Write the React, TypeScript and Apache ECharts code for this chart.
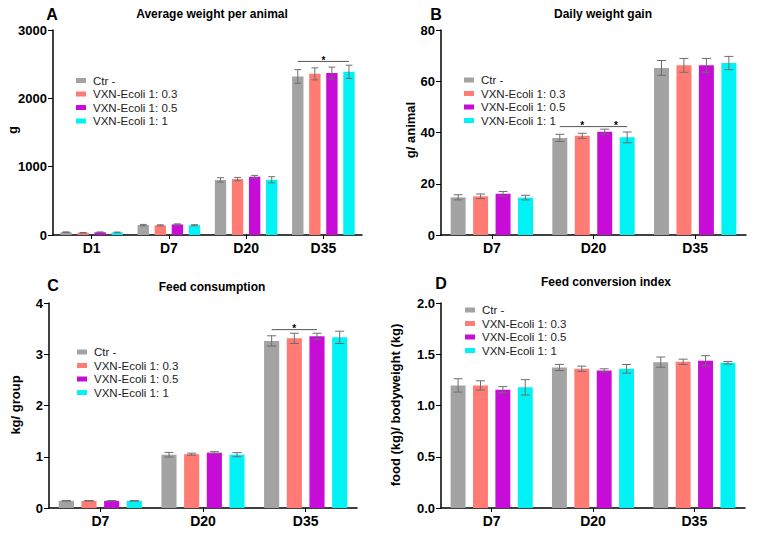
import React, { useEffect, useRef } from "react";
import * as echarts from "echarts";

const FONT = "'Liberation Sans', Arial, sans-serif";

const groupNames = ["Ctr -", "VXN-Ecoli 1: 0.3", "VXN-Ecoli 1: 0.5", "VXN-Ecoli 1: 1"];
const groupColors = ["#a3a3a3", "#ff7b73", "#c80cd8", "#00f2f5"];

const daysA = ["D1", "D7", "D20", "D35"];
const daysB = ["D7", "D20", "D35"];

// A: Average weight per animal (g)
const weightMeans = [
  [40, 145, 806, 2320],
  [33, 141, 818, 2358],
  [40, 155, 852, 2369],
  [38, 143, 808, 2388],
];
const weightErrs = [
  [6, 10, 32, 100],
  [4, 8, 25, 88],
  [5, 8, 20, 88],
  [5, 8, 45, 97],
];
// B: Daily weight gain (g/animal)
const gainMeans = [
  [14.7, 37.9, 65.2],
  [15.1, 38.7, 66.2],
  [16.1, 40.3, 66.2],
  [14.6, 38.1, 67.1],
];
const gainErrs = [
  [1.0, 1.4, 2.9],
  [0.9, 1.0, 2.7],
  [0.9, 1.0, 2.7],
  [0.9, 2.1, 2.6],
];
// C: Feed consumption (kg/group)
const feedMeans = [
  [0.14, 1.04, 3.26],
  [0.14, 1.05, 3.31],
  [0.14, 1.08, 3.35],
  [0.14, 1.04, 3.33],
];
const feedErrs = [
  [0.005, 0.045, 0.1],
  [0.005, 0.02, 0.1],
  [0.005, 0.02, 0.06],
  [0.005, 0.04, 0.12],
];
// D: Feed conversion index
const fciMeans = [
  [1.196, 1.371, 1.423],
  [1.196, 1.358, 1.426],
  [1.154, 1.342, 1.436],
  [1.177, 1.358, 1.417],
];
const fciErrs = [
  [0.065, 0.03, 0.05],
  [0.045, 0.026, 0.026],
  [0.03, 0.016, 0.05],
  [0.075, 0.042, 0.013],
];

// significance brackets: [categoryIndex, fromBar, toBar, yValue]
const sigA = [[3, 0, 3, 2540]];
const sigB = [
  [1, 0, 2, 42.3],
  [1, 2, 3, 42.3],
];
const sigC = [[2, 0, 2, 3.48]];

const CAT_GAP = 0.19;
const BAR_GAP = 0.5;

function barCenterOffset(band: number, idx: number, n = 4) {
  const usable = band * (1 - CAT_GAP);
  const bw = usable / (n + (n - 1) * BAR_GAP);
  const total = n * bw + (n - 1) * bw * BAR_GAP;
  return { off: -total / 2 + idx * bw * (1 + BAR_GAP) + bw / 2, bw };
}

const panels = [
  {
    cats: daysA, means: weightMeans, errs: weightErrs, sig: sigA,
    grid: { left: 53, top: 30, width: 309, height: 205 },
    yMax: 3000, yInt: 1000, fmt: (v: number) => String(v),
    legend: { left: 76, top: 74.5 },
  },
  {
    cats: daysB, means: gainMeans, errs: gainErrs, sig: sigB,
    grid: { left: 441, top: 30, width: 305, height: 205 },
    yMax: 80, yInt: 20, fmt: (v: number) => String(v),
    legend: { left: 464, top: 74 },
  },
  {
    cats: daysB, means: feedMeans, errs: feedErrs, sig: sigC,
    grid: { left: 49, top: 303, width: 308, height: 205 },
    yMax: 4, yInt: 1, fmt: (v: number) => String(v),
    legend: { left: 77, top: 346 },
  },
  {
    cats: daysB, means: fciMeans, errs: fciErrs, sig: [] as number[][],
    grid: { left: 441, top: 303, width: 304, height: 205 },
    yMax: 2, yInt: 0.5, fmt: (v: number) => v.toFixed(1),
    legend: { left: 465, top: 304 },
  },
];

const titles = [
  { text: "Average weight per animal", x: 212, y: 14 },
  { text: "Daily weight gain", x: 603, y: 14 },
  { text: "Feed consumption", x: 212, y: 287 },
  { text: "Feed conversion index", x: 606, y: 282 },
];
const letters = [
  { text: "A", x: 52, y: 14 },
  { text: "B", x: 436, y: 14 },
  { text: "C", x: 53, y: 285 },
  { text: "D", x: 441, y: 283 },
];
const yNames = [
  { text: "g", x: 12, y: 130 },
  { text: "g/ animal", x: 410, y: 130 },
  { text: "kg/ group", x: 15, y: 405 },
  { text: "food (kg)/ bodyweight (kg)", x: 395, y: 405 },
];

function buildOption() {
  const grids: any[] = [];
  const xAxes: any[] = [];
  const yAxes: any[] = [];
  const series: any[] = [];
  const legends: any[] = [];

  panels.forEach((p, pi) => {
    grids.push({ ...p.grid, containLabel: false });
    xAxes.push({
      type: "category",
      gridIndex: pi,
      data: p.cats,
      axisLine: { lineStyle: { color: "#000", width: 1.5 } },
      axisTick: { show: true, alignWithLabel: true, length: 4, lineStyle: { color: "#000", width: 1 } },
      axisLabel: { color: "#000", fontSize: 14, fontWeight: "bold", fontFamily: FONT, margin: 6 },
      splitLine: { show: false },
    });
    yAxes.push({
      type: "value",
      gridIndex: pi,
      min: 0,
      max: p.yMax,
      interval: p.yInt,
      axisLine: { show: true, lineStyle: { color: "#000", width: 1.5 } },
      axisTick: { show: true, length: 5, lineStyle: { color: "#000", width: 1 } },
      axisLabel: { color: "#000", fontSize: 13, fontWeight: "bold", fontFamily: FONT, margin: 6, formatter: p.fmt },
      splitLine: { show: false },
    });
    groupNames.forEach((name, gi) => {
      series.push({
        type: "bar",
        name,
        xAxisIndex: pi,
        yAxisIndex: pi,
        data: p.means[gi],
        itemStyle: { color: groupColors[gi] },
        barCategoryGap: `${CAT_GAP * 100}%`,
        barGap: `${BAR_GAP * 100}%`,
        z: 2,
      });
    });
    const errData: number[][] = [];
    groupNames.forEach((_, gi) => {
      p.means[gi].forEach((m, ci) => errData.push([ci, m, p.errs[gi][ci], gi]));
    });
    series.push({
      type: "custom",
      name: "err" + pi,
      xAxisIndex: pi,
      yAxisIndex: pi,
      data: errData,
      encode: { x: 0, y: 1 },
      z: 5,
      silent: true,
      renderItem: (params: any, api: any) => {
        const ci = api.value(0);
        const m = api.value(1);
        const e = api.value(2);
        const gi = api.value(3);
        const band = api.size([1, 0])[0];
        const { off, bw } = barCenterOffset(band, gi);
        const base = api.coord([ci, m]);
        const cx = base[0] + off;
        const yt = api.coord([ci, m + e])[1];
        const yb = api.coord([ci, m - e])[1];
        const cap = bw * 0.3;
        const st = { stroke: "#6e6e6e", lineWidth: 1 };
        return {
          type: "group",
          children: [
            { type: "line", shape: { x1: cx, y1: yt, x2: cx, y2: yb }, style: st },
            { type: "line", shape: { x1: cx - cap, y1: yt, x2: cx + cap, y2: yt }, style: st },
            { type: "line", shape: { x1: cx - cap, y1: yb, x2: cx + cap, y2: yb }, style: st },
          ],
        };
      },
    });
    if (p.sig.length) {
      series.push({
        type: "custom",
        name: "sig" + pi,
        xAxisIndex: pi,
        yAxisIndex: pi,
        data: p.sig,
        encode: { x: 0, y: 3 },
        z: 6,
        silent: true,
        renderItem: (params: any, api: any) => {
          const ci = api.value(0);
          const a = api.value(1);
          const b = api.value(2);
          const yv = api.value(3);
          const band = api.size([1, 0])[0];
          const pt = api.coord([ci, yv]);
          const x1 = pt[0] + barCenterOffset(band, a).off;
          const x2 = pt[0] + barCenterOffset(band, b).off;
          return {
            type: "group",
            children: [
              { type: "line", shape: { x1, y1: pt[1], x2, y2: pt[1] }, style: { stroke: "#555", lineWidth: 1 } },
              {
                type: "text",
                x: (x1 + x2) / 2,
                y: pt[1] - 1,
                style: { text: "*", fontSize: 10, fontWeight: "bold", fontFamily: FONT, fill: "#000", align: "center", verticalAlign: "middle" },
              },
            ],
          };
        },
      });
    }
    legends.push({
      data: groupNames,
      orient: "vertical",
      left: p.legend.left,
      top: p.legend.top,
      icon: "rect",
      itemWidth: 10,
      itemHeight: 5,
      itemGap: 1.5,
      padding: 0,
      selectedMode: false,
      textStyle: { fontSize: 11.5, color: "#222", fontFamily: FONT, padding: [0, 0, 0, 2] },
    });
  });

  const graphics: any[] = [];
  titles.forEach((t) =>
    graphics.push({
      type: "text", x: t.x, y: t.y,
      style: { text: t.text, fontSize: 12, fontWeight: "bold", fontFamily: FONT, fill: "#000", align: "center", verticalAlign: "middle" },
    })
  );
  letters.forEach((t) =>
    graphics.push({
      type: "text", x: t.x, y: t.y,
      style: { text: t.text, fontSize: 16, fontWeight: "bold", fontFamily: FONT, fill: "#000", align: "center", verticalAlign: "middle" },
    })
  );
  yNames.forEach((t) =>
    graphics.push({
      type: "text", x: t.x, y: t.y, rotation: Math.PI / 2,
      style: { text: t.text, fontSize: 13, fontWeight: "bold", fontFamily: FONT, fill: "#000", align: "center", verticalAlign: "middle" },
    })
  );

  return {
    animation: false,
    backgroundColor: "#fff",
    grid: grids,
    xAxis: xAxes,
    yAxis: yAxes,
    legend: legends,
    series,
    graphic: graphics,
  };
}

export default function App() {
  const ref = useRef<HTMLDivElement>(null);
  useEffect(() => {
    if (!ref.current) return;
    const chart = echarts.init(ref.current, undefined, { renderer: "svg" });
    chart.setOption(buildOption() as any);
    return () => chart.dispose();
  }, []);
  return (
    <div
      ref={ref}
      style={{ position: "fixed", left: 0, top: 0, width: 758, height: 533, background: "#fff" }}
    />
  );
}
